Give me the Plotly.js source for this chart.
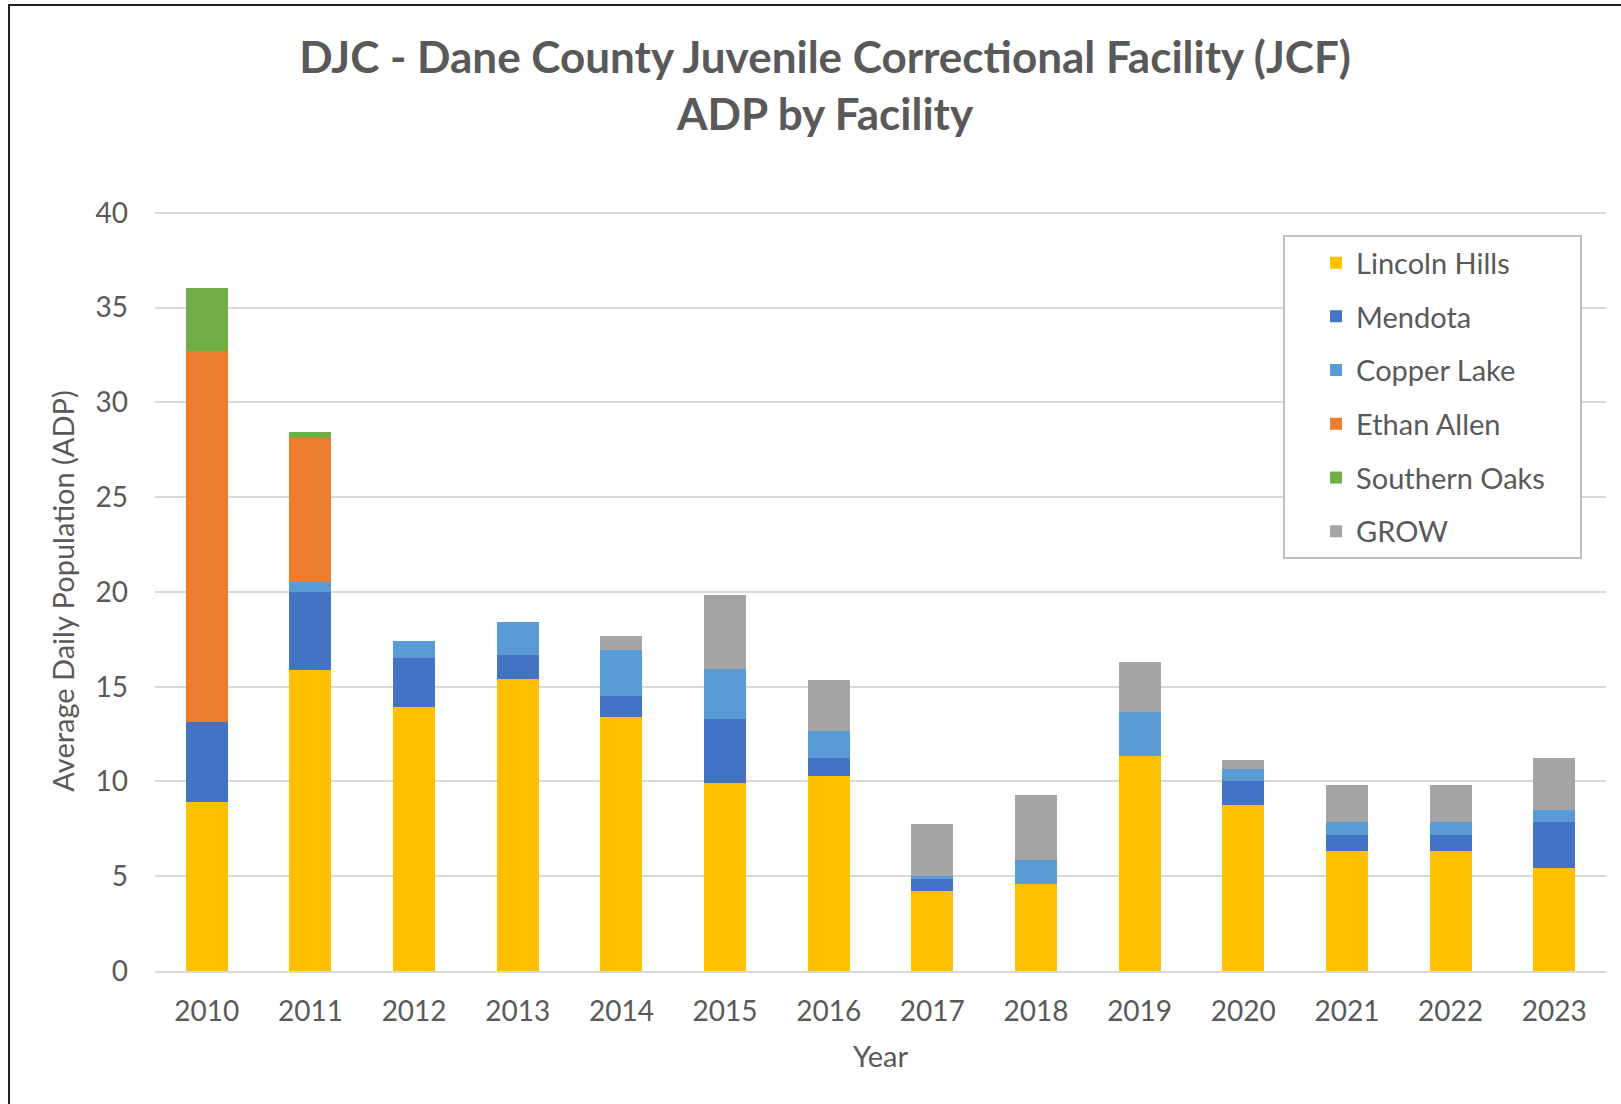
<!DOCTYPE html>
<html>
<head>
<meta charset="utf-8">
<script src="https://cdn.plot.ly/plotly-3.0.1.min.js"></script>
<style>
  body { margin: 0; background: #fff; }
  #plot { width: 1621px; height: 1104px; }
  #frame { position: absolute; left: 8px; top: 4px; width: 1700px; height: 1200px;
           border-left: 2px solid #222; border-top: 2px solid #222; pointer-events: none; }
</style>
</head>
<body>
<div id="plot"></div>
<div id="frame"></div>
<script>
// Years on the x axis
let years = ['2010','2011','2012','2013','2014','2015','2016','2017','2018','2019','2020','2021','2022','2023']

// ADP per facility
let lincolnHills = [8.9, 15.9, 13.95, 15.4, 13.4, 9.93, 10.28, 4.22, 4.6, 11.33, 8.77, 6.34, 6.34, 5.46]
let mendota      = [4.25, 4.1, 2.55, 1.25, 1.1, 3.37, 0.94, 0.62, 0, 0, 1.23, 0.82, 0.82, 2.4]
let copperLake   = [0, 0.5, 0.9, 1.75, 2.45, 2.64, 1.43, 0.18, 1.25, 2.33, 0.66, 0.7, 0.7, 0.62]
let ethanAllen   = [19.55, 7.6, 0, 0, 0, 0, 0, 0, 0, 0, 0, 0, 0, 0]
let southernOaks = [3.33, 0.35, 0, 0, 0, 0, 0, 0, 0, 0, 0, 0, 0, 0]
let grow         = [0, 0, 0, 0, 0.7, 3.88, 2.69, 2.75, 3.44, 2.66, 0.49, 1.95, 1.95, 2.77]

let facilities = ['Lincoln Hills', 'Mendota', 'Copper Lake', 'Ethan Allen', 'Southern Oaks', 'GROW']
let colors = ['#FFC000', '#4472C4', '#5B9BD5', '#ED7D31', '#70AD47', '#A5A5A5']
let series = [lincolnHills, mendota, copperLake, ethanAllen, southernOaks, grow]

let fontFam = 'Lato, "Open Sans", sans-serif'
let grey = '#595959'
let pad = '\u00a0\u00a0\u00a0\u00a0' // extra room on the right of the legend box

// one bar trace per facility, stacked
let data = []
for (let i = 0; i < facilities.length; i++) {
    data.push({
        x: years,
        y: series[i],
        name: facilities[i] + pad,
        type: 'bar',
        legendgroup: 'g' + i,
        marker: { color: colors[i], line: { width: 0 } },
        hovertemplate: facilities[i] + ': %{y}<extra></extra>'
    })
}

let layout = {
    width: 1621,
    height: 1104,
    barmode: 'stack',
    bargap: 0.595,
    paper_bgcolor: '#ffffff',
    plot_bgcolor: '#ffffff',
    margin: { l: 155, r: 15, t: 211, b: 133 },
    font: { family: fontFam, color: grey, size: 28 },
    title: {
        text: 'DJC - Dane County Juvenile Correctional Facility (JCF)<br>ADP by Facility',
        x: 0.509,
        xref: 'container',
        y: 0.934,
        yref: 'container',
        yanchor: 'middle',
        font: { family: fontFam, size: 44, color: grey, weight: 'bold' }
    },
    xaxis: {
        type: 'category',
        title: { text: 'Year', font: { size: 29, color: grey }, standoff: 21 },
        tickfont: { size: 28, color: grey },
        showgrid: false,
        showline: true,
        linecolor: '#d9d9d9',
        linewidth: 2,
        ticks: '',
        ticklabelstandoff: 14
    },
    yaxis: {
        title: { text: 'Average Daily Population (ADP)', font: { size: 29, color: grey }, standoff: 12 },
        range: [0, 40.1],
        tickvals: [0, 5, 10, 15, 20, 25, 30, 35, 40],
        tickfont: { size: 28, color: grey },
        gridcolor: '#d9d9d9',
        gridwidth: 2,
        zeroline: false,
        showline: false,
        ticks: '',
        ticklabelstandoff: 26
    },
    legend: {
        x: 0.9835,
        xanchor: 'right',
        y: 0.968,
        yanchor: 'top',
        traceorder: 'grouped',
        tracegroupgap: 13,
        indentation: 31,
        bgcolor: '#ffffff',
        bordercolor: '#bfbfbf',
        borderwidth: 2,
        font: { size: 29, color: grey }
    },
    showlegend: true
}

Plotly.newPlot('plot', data, layout, { displayModeBar: false })
</script>
</body>
</html>
